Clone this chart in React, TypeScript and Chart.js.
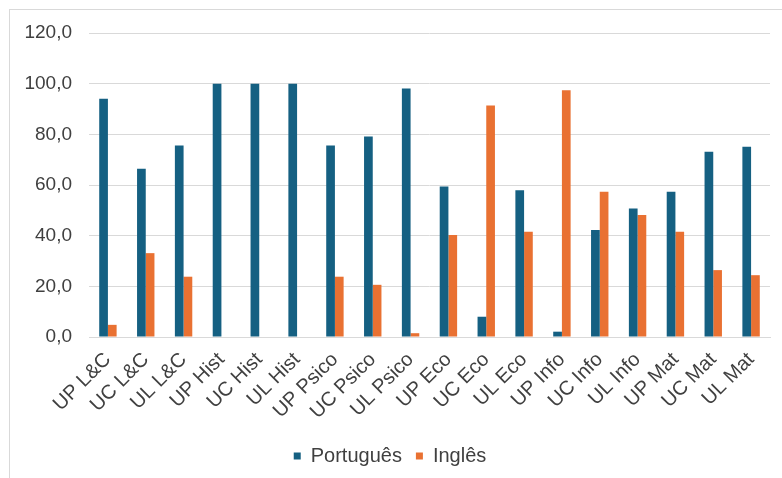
import React, { useEffect, useRef } from "react";
import { Chart, registerables } from "chart.js";

Chart.register(...registerables);

const categories = [
  "UP L&C", "UC L&C", "UL L&C", "UP Hist", "UC Hist", "UL Hist",
  "UP Psico", "UC Psico", "UL Psico", "UP Eco", "UC Eco", "UL Eco",
  "UP Info", "UC Info", "UL Info", "UP Mat", "UC Mat", "UL Mat",
];
const portugues = [94.0, 66.4, 75.6, 100, 100, 100, 75.6, 79.1, 98.1, 59.4, 8.0, 57.9, 2.1, 42.2, 50.7, 57.3, 73.1, 75.1];
const ingles = [4.8, 33.1, 23.8, 0, 0, 0, 23.8, 20.6, 1.5, 40.3, 91.4, 41.5, 97.4, 57.3, 48.2, 41.5, 26.4, 24.4];
const seriesNames = ["Português", "Inglês"];
const yTicks = { min: 0, max: 120, step: 20 };

const BLUE = "#156082";
const ORANGE = "#E97132";
const TEXT = "#404040";
const GRID = "#d9d9d9";
const FONT = "'Liberation Sans', Arial, sans-serif";

export default function App() {
  const ref = useRef<HTMLCanvasElement>(null);
  useEffect(() => {
    const chart = new Chart(ref.current!, {
      type: "bar",
      data: {
        labels: categories,
        datasets: [
          { label: seriesNames[0], data: portugues, backgroundColor: BLUE, borderWidth: 0, categoryPercentage: 0.46, barPercentage: 1 },
          { label: seriesNames[1], data: ingles, backgroundColor: ORANGE, borderWidth: 0, categoryPercentage: 0.46, barPercentage: 1 },
        ],
      },
      options: {
        animation: false,
        responsive: false,
        maintainAspectRatio: false,
        layout: { padding: { top: 23, right: 12, left: 0, bottom: 2 } },
        plugins: {
          tooltip: { enabled: false },
          legend: {
            position: "bottom",
            labels: {
              boxWidth: 7,
              boxHeight: 7,
              padding: 14,
              color: TEXT,
              font: { family: FONT, size: 20 },
            },
          },
        },
        scales: {
          x: {
            grid: { display: false, drawTicks: false },
            border: { color: GRID, width: 1 },
            ticks: {
              autoSkip: false,
              minRotation: 45,
              maxRotation: 45,
              padding: 11,
              color: TEXT,
              font: { family: FONT, size: 20 },
            },
            afterFit: (s: any) => {
              s.height = 95;
            },
          },
          y: {
            min: yTicks.min,
            max: yTicks.max,
            grid: { color: GRID, drawTicks: false, lineWidth: 1 },
            border: { display: false },
            ticks: {
              stepSize: yTicks.step,
              padding: 17,
              color: TEXT,
              font: { family: FONT, size: 19, lineHeight: 0.6 },
              callback: (v: any) => Number(v).toFixed(1).replace(".", ","),
            },
            afterFit: (s: any) => {
              s.width = 79;
            },
          },
        },
      },
    } as any);
    return () => chart.destroy();
  }, []);
  return (
    <div
      style={{
        position: "absolute",
        left: 9,
        top: 9,
        width: 773,
        height: 469,
        borderLeft: `1px solid ${GRID}`,
        borderTop: `1px solid ${GRID}`,
        boxSizing: "border-box",
        background: "#fff",
      }}
    >
      <canvas ref={ref} width={772} height={468} style={{ display: "block" }} />
    </div>
  );
}
